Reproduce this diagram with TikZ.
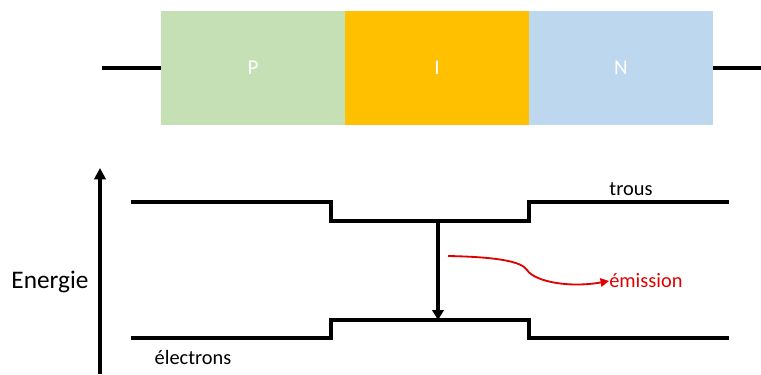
\documentclass[tikz,border=0pt]{standalone}
\usepackage{fontspec}
\setmainfont{Carlito}
\usetikzlibrary{arrows.meta}
\definecolor{zoneP}{HTML}{C5E0B4}
\definecolor{zoneI}{HTML}{FFC000}
\definecolor{zoneN}{HTML}{BDD7EE}
\definecolor{rouge}{HTML}{E00000}
\tikzset{
  bande/.style={line width=2.6pt},
  zone/.style={draw=none,minimum width=184*0.025cm,minimum height=114*0.025cm,inner sep=0pt,text=white,font=\fontsize{15}{18}\selectfont},
  etiq/.style={font=\fontsize{14.5}{17}\selectfont,inner sep=0pt}
}
\begin{document}
\begin{tikzpicture}[x=0.025cm,y=-0.025cm]
            \useasboundingbox (0,0) rectangle (761,374);
            % diode PIN
            \node[zone,fill=zoneP] (P) at (253,68) {P};
            \node[zone,fill=zoneI] (I) at (437,68) {I};
            \node[zone,fill=zoneN] (N) at (621,68) {N};
            \draw[bande] (102,68)--(P.west);
            \draw[bande] (N.east)--(761,68);
            % axe
            \draw[line width=2.2pt,-{Triangle[width=8pt,length=8pt]}] (100,374)--(100,168);
            \node[etiq,font=\fontsize{18}{21}\selectfont] (energie) at (50,282) {Energie};
            % bandes
            \draw[bande] (131,202)--(331,202)--(331,221)--(529,221)--(529,202)--(729,202);
            \draw[bande] (131,338)--(331,338)--(331,320)--(529,320)--(529,338)--(729,338);
            \node[etiq] (trous) at (631,189) {trous};
            \node[etiq] (electrons) at (193,357) {électrons};
            % recombinaison
            \coordinate (haut) at (438,221);
            \coordinate (bas) at (438,320);
            \draw[line width=2.2pt,-{Triangle[width=8pt,length=7pt]}] (haut)--(bas);
            \node[etiq,text=rouge,anchor=west] (emission) at (609,281) {émission};
            \coordinate (depart) at (448,256);
            \draw[rouge,line width=1.3pt,-{Triangle[width=6pt,length=6pt]}] (depart) .. controls (500,257) and (522,262) .. (527,270)
                .. controls (535,282) and (570,288) .. (emission.west);
        \end{tikzpicture}
\end{document}
